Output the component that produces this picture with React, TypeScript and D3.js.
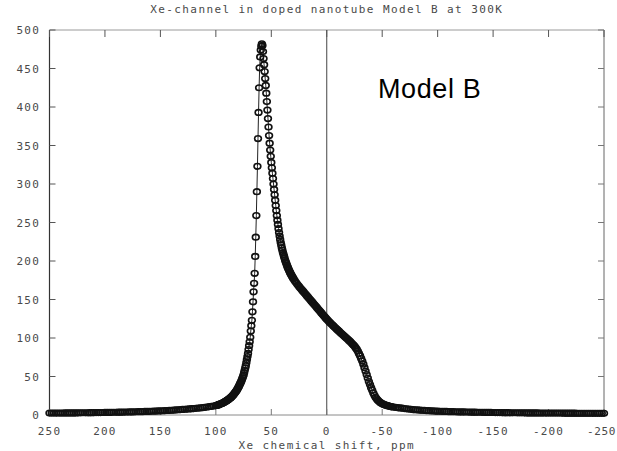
import React from "react";
import * as d3 from "d3";

// ---- data (ppm grid segments, descending ppm) ----
const TITLE = "Xe-channel in doped nanotube Model B at 300K";
const X_TITLE = "Xe chemical shift, ppm";
const ANNOTATION = "Model B";

const X_TICKS = [250, 200, 150, 100, 50, 0, -50, -100, -150, -200, -250];
const Y_TICKS = [0, 50, 100, 150, 200, 250, 300, 350, 400, 450, 500];

// 250 -> 102 ppm, step 2
const TAIL_LEFT_START = 250;
const TAIL_LEFT_STEP = 2;
const tailLeftValues = [
  2.5, 2.5, 2.55, 2.55, 2.6, 2.6, 2.6, 2.65, 2.65, 2.7,
  2.7, 2.75, 2.75, 2.8, 2.85, 2.9, 2.9, 2.95, 3.0, 3.05,
  3.1, 3.15, 3.2, 3.2, 3.25, 3.3, 3.35, 3.4, 3.5, 3.55,
  3.6, 3.65, 3.7, 3.8, 3.85, 3.9, 4.0, 4.1, 4.15, 4.2,
  4.3, 4.4, 4.5, 4.6, 4.7, 4.8, 4.9, 5.05, 5.15, 5.3,
  5.4, 5.55, 5.7, 5.85, 6.0, 6.2, 6.4, 6.6, 6.8, 7.0,
  7.2, 7.45, 7.7, 7.95, 8.15, 8.4, 8.7, 9.0, 9.3, 9.65,
  10.0, 10.4, 10.9, 11.3, 11.7,
];

// 100 -> 30 ppm, step 0.5
const CORE_START = 100;
const CORE_STEP = 0.5;
const coreValues = [
  12.2, 12.4, 12.6, 12.9, 13.1, 13.4, 13.7, 14.0, 14.3, 14.6,
  14.9, 15.2, 15.5, 15.9, 16.3, 16.7, 17.1, 17.5, 17.9, 18.4,
  18.9, 19.4, 19.9, 20.4, 21.0, 21.6, 22.2, 22.8, 23.5, 24.2,
  25.0, 25.7, 26.5, 27.5, 28.5, 29.5, 30.5, 31.5, 32.5, 34.0,
  35.0, 36.5, 38.0, 39.5, 41.0, 42.5, 44.0, 46.0, 48.0, 50.0,
  52, 55, 58, 61, 64, 68, 72, 76, 80, 85,
  90, 95, 101, 109, 116, 123, 134, 147, 160, 171,
  184, 206, 231, 259, 290, 323, 359, 393, 425, 451,
  465, 474, 479, 482, 480, 472, 463, 455, 446, 437,
  428, 418, 407, 396, 385, 374, 363, 353, 344, 336,
  328, 321, 314, 307, 300, 293, 286, 279, 272, 265.5,
  259, 253, 247.5, 242, 237, 232.5, 228, 224, 220.5, 217,
  214, 211, 208.5, 206, 203.5, 201, 199, 197, 195, 193,
  191.3, 189.5, 187.9, 186.3, 184.8, 183.4, 182, 180.7, 179.4, 178.2,
  177,
];

// 29 -> -60 ppm, step 1
const MID_START = 29;
const MID_STEP = 1;
const midValues = [
  174.8, 172.7, 170.7, 168.8, 167, 165.2, 163.5, 161.8, 160.1, 158.4,
  156.7, 155, 153.3, 151.6, 149.9, 148.2, 146.5, 144.8, 143.1, 141.4,
  139.7, 138, 136.3, 134.6, 132.9, 131.2, 129.5, 127.8, 126.1, 124.4,
  122.9, 121.4, 119.9, 118.5, 117.1, 115.7, 114.3, 112.9, 111.5, 110.1,
  108.8, 107.5, 106.2, 104.9, 103.6, 102.3, 101, 99.7, 98.3, 96.9,
  95.5, 94, 92.5, 91, 89.5, 87.5, 85.5, 83, 80, 77,
  73.5, 70, 66, 61.5, 57, 52.5, 48, 43.5, 39.5, 35.5,
  32, 28.5, 25.5, 23, 21, 19.2, 17.8, 16.6, 15.6, 14.8,
  14.1, 13.5, 13, 12.5, 12.1, 11.7, 11.3, 11, 10.7, 10.4,
];

// -62 -> -250 ppm, step 2
const TAIL_RIGHT_START = -62;
const TAIL_RIGHT_STEP = 2;
const tailRightValues = [
  10.0, 9.6, 9.2, 8.8, 8.4, 8.0, 7.7, 7.4, 7.1, 6.8,
  6.6, 6.4, 6.2, 6.0, 5.8, 5.6, 5.45, 5.3, 5.15, 5.0,
  4.9, 4.8, 4.7, 4.6, 4.5, 4.4, 4.3, 4.2, 4.15, 4.1,
  4.0, 3.95, 3.9, 3.85, 3.8, 3.7, 3.65, 3.6, 3.55, 3.5,
  3.45, 3.4, 3.35, 3.3, 3.25, 3.2, 3.18, 3.15, 3.1, 3.05,
  3.0, 3.0, 2.95, 2.9, 2.9, 2.85, 2.85, 2.8, 2.8, 2.75,
  2.75, 2.7, 2.7, 2.65, 2.65, 2.6, 2.6, 2.6, 2.55, 2.55,
  2.5, 2.5, 2.5, 2.45, 2.45, 2.45, 2.4, 2.4, 2.4, 2.35,
  2.35, 2.35, 2.3, 2.3, 2.3, 2.3, 2.25, 2.25, 2.25, 2.2,
  2.2, 2.2, 2.2, 2.15, 2.15,
];

type Pt = { ppm: number; v: number };
function segment(start: number, step: number, values: number[]): Pt[] {
  return values.map((v, i) => ({ ppm: start - i * step, v }));
}

const points: Pt[] = [
  ...segment(TAIL_LEFT_START, TAIL_LEFT_STEP, tailLeftValues),
  ...segment(CORE_START, CORE_STEP, coreValues),
  ...segment(MID_START, MID_STEP, midValues),
  ...segment(TAIL_RIGHT_START, TAIL_RIGHT_STEP, tailRightValues),
];

const W = 617;
const H = 451;
const LEFT = 49.5;
const RIGHT = 604;
const TOP = 30;
const BOTTOM = 415;

export default function App() {
  const x = d3.scaleLinear().domain([250, -250]).range([LEFT, RIGHT]);
  const y = d3.scaleLinear().domain([0, 500]).range([BOTTOM, TOP]);
  const line = d3
    .line<Pt>()
    .x((d) => x(d.ppm))
    .y((d) => y(d.v));

  const mono = "'DejaVu Sans Mono', 'Liberation Mono', monospace";
  const labelColor = "#4a4a4a";
  const lastTick = X_TICKS[X_TICKS.length - 1];

  return (
    <svg
      width={W}
      height={H}
      viewBox={`0 0 ${W} ${H}`}
      style={{ position: "absolute", left: 0, top: 0, background: "#fff" }}
    >
      <rect x={0} y={0} width={W} height={H} fill="#fff" />
      {/* title */}
      <text
        x={x(0)}
        y={13}
        textAnchor="middle"
        fontFamily={mono}
        fontSize={11}
        letterSpacing={1.4}
        fill={labelColor}
      >
        {TITLE}
      </text>

      {/* frame */}
      <line x1={LEFT} x2={RIGHT} y1={TOP} y2={TOP} stroke="#9a9a9a" strokeWidth={1} />
      <line x1={LEFT} x2={RIGHT} y1={BOTTOM} y2={BOTTOM} stroke="#8a8a8a" strokeWidth={1} />
      <line x1={LEFT} x2={LEFT} y1={TOP} y2={BOTTOM} stroke="#333" strokeWidth={1.2} />
      <line x1={RIGHT} x2={RIGHT} y1={TOP} y2={BOTTOM} stroke="#666" strokeWidth={1} />

      {/* zero line */}
      <line x1={x(0)} x2={x(0)} y1={TOP} y2={BOTTOM} stroke="#444" strokeWidth={1} />

      {/* x ticks */}
      {X_TICKS.map((t) => (
        <g key={"xt" + t}>
          <line x1={x(t)} x2={x(t)} y1={BOTTOM} y2={BOTTOM - 6} stroke="#777" />
          <line x1={x(t)} x2={x(t)} y1={TOP} y2={TOP + 7} stroke="#555" />
          <text
            x={t === lastTick ? W - 1 : x(t)}
            y={435}
            textAnchor={t === lastTick ? "end" : "middle"}
            fontFamily={mono}
            fontSize={11}
            letterSpacing={t === lastTick ? 0.6 : 1.2}
            fill={labelColor}
          >
            {String(t)}
          </text>
        </g>
      ))}

      {/* y ticks */}
      {Y_TICKS.map((t) => (
        <g key={"yt" + t}>
          <line x1={LEFT} x2={LEFT + 6} y1={y(t)} y2={y(t)} stroke="#555" />
          <line x1={RIGHT} x2={RIGHT - 6} y1={y(t)} y2={y(t)} stroke="#777" />
          <text
            x={40}
            y={y(t) + 4}
            textAnchor="end"
            fontFamily={mono}
            fontSize={11}
            letterSpacing={1.2}
            fill={labelColor}
          >
            {t}
          </text>
        </g>
      ))}

      {/* x axis title */}
      <text
        x={x(0)}
        y={449}
        textAnchor="middle"
        fontFamily={mono}
        fontSize={11}
        letterSpacing={1.4}
        fill={labelColor}
      >
        {X_TITLE}
      </text>

      {/* series */}
      <path d={line(points) ?? ""} fill="none" stroke="#222" strokeWidth={1} />
      {points.map((p, i) => (
        <ellipse
          key={i}
          cx={x(p.ppm)}
          cy={y(p.v)}
          rx={3.4}
          ry={2.8}
          fill="none"
          stroke="#111"
          strokeWidth={1.6}
        />
      ))}

      {/* annotation */}
      <text
        x={378}
        y={98}
        fontFamily="'Liberation Sans', Arial, sans-serif"
        fontSize={27}
        letterSpacing={0.6}
        fill="#000"
      >
        {ANNOTATION}
      </text>
    </svg>
  );
}
